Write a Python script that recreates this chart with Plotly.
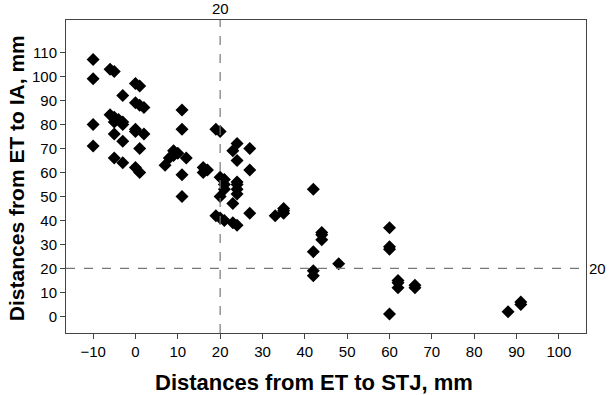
import plotly.graph_objects as go

# Distances from ET to STJ (x) and ET to IA (y), mm
stj = [-10, -10, -10, -10, -6, -5, -3, 0, 1, 0, 1, 2,
       -6, -5, -4, -5, -3, -3, -5, -3, 0, 0, 2, 1, -5, -3, 0, 1,
       7, 8, 9, 9, 10, 11, 11, 12, 11, 11, 16, 17, 16, 19, 20,
       24, 23, 27, 24, 27, 20, 21, 21, 21, 24, 24, 24, 24,
       20, 23, 27, 19, 20, 21, 23, 24, 33, 35, 35, 35,
       42, 44, 44, 44, 42, 42, 42, 48,
       60, 60, 60, 62, 62, 62, 66, 66, 60, 88, 91, 91]
ia = [107, 99, 80, 71, 103, 102, 92, 97, 96, 89, 88, 87,
      84, 83, 82, 81, 81, 80, 76, 73, 78, 77, 76, 70, 66, 64, 62, 60,
      63, 66, 67, 69, 68, 86, 78, 66, 59, 50, 62, 61, 60, 78, 77,
      72, 69, 70, 65, 61, 58, 57, 55, 53, 56, 55, 53, 51,
      50, 47, 43, 42, 41, 40, 39, 38, 42, 45, 44, 43,
      53, 35, 34, 32, 27, 19, 17, 22,
      37, 29, 28, 15, 14, 12, 13, 12, 1, 2, 6, 5]

x_ticks = list(range(-10, 101, 10))
y_ticks = list(range(0, 111, 10))
cutoff = 20

FONT = "Liberation Sans, Arial, sans-serif"

fig = go.Figure()
fig.add_trace(go.Scatter(x=stj, y=ia, mode="markers",
                         marker=dict(symbol="diamond", size=10, color="black",
                                     line=dict(width=0)),
                         showlegend=False))

fig.add_shape(type="line", xref="x", yref="paper", x0=cutoff, x1=cutoff, y0=0, y1=1,
              line=dict(color="#777777", width=1.2, dash="dash"))
fig.add_shape(type="line", xref="paper", yref="y", x0=0, x1=1, y0=cutoff, y1=cutoff,
              line=dict(color="#777777", width=1.2, dash="dash"))

fig.add_annotation(x=cutoff, xref="x", y=1, yref="paper", yanchor="bottom",
                   xanchor="center", text=str(cutoff), showarrow=False, yshift=1,
                   font=dict(size=15, color="black", family=FONT))
fig.add_annotation(x=1, xref="paper", y=cutoff, yref="y", xanchor="left",
                   yanchor="middle", text=str(cutoff), showarrow=False, xshift=1,
                   font=dict(size=15, color="black", family=FONT))

fig.add_annotation(x=0.477, xref="paper", y=-0.157, yref="paper",
                   xanchor="center", yanchor="middle",
                   text="<b>Distances from ET to STJ, mm</b>", showarrow=False,
                   font=dict(size=22, color="black", family=FONT))
fig.add_annotation(x=-0.096, xref="paper", y=0.495, yref="paper", textangle=-90,
                   xanchor="center", yanchor="middle",
                   text="<b>Distances from ET to IA, mm</b>", showarrow=False,
                   font=dict(size=21, color="black", family=FONT))

fig.update_xaxes(range=[-16.4, 106.4], tickvals=x_ticks, ticks="outside", ticklen=5,
                 tickcolor="#444", showgrid=False, zeroline=False, automargin=False,
                 showline=True, linecolor="#444", linewidth=1, mirror=True,
                 tickfont=dict(size=15, color="black", family=FONT))
fig.update_yaxes(range=[-6.9, 123.5], tickvals=y_ticks, ticks="outside", ticklen=5,
                 tickcolor="#444", showgrid=False, zeroline=False, automargin=False,
                 showline=True, linecolor="#444", linewidth=1, mirror=True,
                 tickfont=dict(size=15, color="black", family=FONT))

fig.update_layout(width=610, height=395, margin=dict(l=66, r=24, t=20, b=62),
                  paper_bgcolor="white", plot_bgcolor="white")

# remove the browser's default 8px body margin so the figure sits at the page origin
fig.write_html("out.html", config={"displayModeBar": False},
               post_script="document.body.style.margin='0';")
